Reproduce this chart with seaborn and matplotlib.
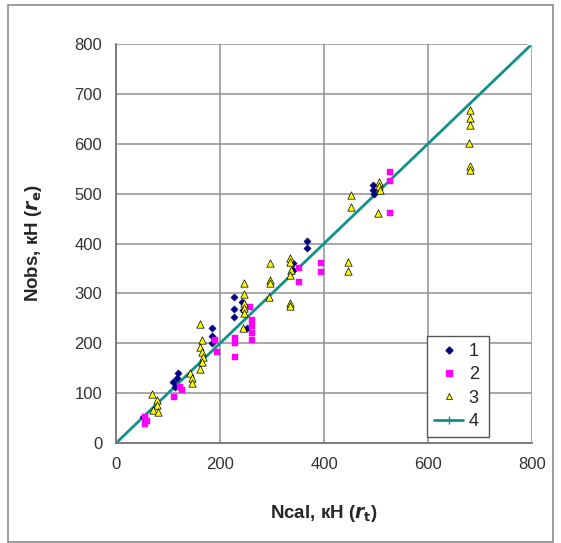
import matplotlib
matplotlib.use("Agg")
import matplotlib.pyplot as plt
import seaborn as sns
import pandas as pd
from matplotlib.patches import Rectangle
from matplotlib.lines import Line2D

# series 1 - navy diamonds
s1_x = [52, 110, 113, 117, 120, 184, 184, 184, 226, 226, 226, 242, 245, 251,
        341, 341, 367, 367, 495, 495, 497]
s1_y = [53, 123, 113, 130, 140, 230, 214, 200, 292, 269, 252, 283, 267, 230,
        360, 347, 405, 391, 517, 507, 500]

# series 2 - magenta squares
s2_x = [56, 56, 60, 112, 123, 126, 190, 194, 229, 229, 229, 258, 261, 261,
        261, 261, 352, 352, 394, 394, 527, 527, 527]
s2_y = [53, 39, 45, 93, 113, 106, 206, 183, 210, 200, 172, 272, 246, 234,
        220, 206, 351, 323, 360, 343, 544, 526, 462]

# series 3 - yellow triangles
s3_x = [69, 78, 79, 72, 81, 142, 146, 146, 162, 165, 162, 165, 167, 165, 162,
        247, 247, 247, 247, 247, 245, 296, 296, 296, 294, 335, 335, 336, 335,
        334, 334, 451, 451, 447, 447, 506, 506, 508, 504, 680, 680, 680, 678,
        680, 680]
s3_y = [98, 86, 76, 66, 63, 140, 130, 120, 238, 206, 193, 183, 173, 163, 148,
        321, 298, 280, 270, 260, 231, 361, 327, 320, 292, 372, 363, 347, 337,
        281, 275, 498, 474, 363, 345, 524, 515, 507, 462, 667, 651, 637, 601,
        555, 548]

# series 4 - line of equality
s4_x = [0, 800]
s4_y = [0, 800]

x_ticks = [0, 200, 400, 600, 800]
y_ticks = [0, 100, 200, 300, 400, 500, 600, 700, 800]

sns.set_style("white")
plt.rcParams["font.family"] = ["Liberation Sans", "DejaVu Sans"]

fig = plt.figure(figsize=(5.61, 5.43), dpi=100)
ax = fig.add_axes([0.2068, 0.184, 0.7415, 0.735])

# outer chart frame
fig.patches.append(Rectangle((8 / 561, 1 - 542 / 543), 545 / 561, 537 / 543,
                             transform=fig.transFigure, fill=False,
                             edgecolor="#8c8c8c", linewidth=1.2))

grid_col = "#8f8f8f"
for v in y_ticks[1:]:
    ax.axhline(v, color=grid_col, lw=1.1, zorder=0)
for v in x_ticks[1:]:
    ax.axvline(v, color=grid_col, lw=1.1, zorder=0)

teal = "#12918a"
sns.lineplot(x=s4_x, y=s4_y, ax=ax, color=teal, lw=2, marker="+",
             markersize=7, markeredgewidth=1, zorder=2)

sns.scatterplot(x=s1_x, y=s1_y, ax=ax, color="#000080", marker="D", s=14,
                edgecolor="#000080", linewidth=0.3, zorder=3)
sns.scatterplot(x=s2_x, y=s2_y, ax=ax, color="#ff00ff", marker="s", s=20,
                edgecolor="#ff00ff", linewidth=0.3, zorder=3)
sns.scatterplot(x=s3_x, y=s3_y, ax=ax, color="#ffff00", marker="^", s=28,
                edgecolor="black", linewidth=0.5, zorder=4)

ax.set_xlim(0, 800)
ax.set_ylim(0, 800)
ax.set_xticks(x_ticks)
ax.set_yticks(y_ticks)
ax.tick_params(axis="both", labelsize=12, direction="out", length=5,
               width=1, color="#666666", labelcolor="#333333", pad=5)
for side in ["top", "right"]:
    ax.spines[side].set_visible(False)
for side in ["left", "bottom"]:
    ax.spines[side].set_color("#666666")
    ax.spines[side].set_linewidth(1.2)

ax.set_xlabel(r"Ncal, кН ($\mathbfit{r}_\mathbf{t}$)", fontsize=13.5,
              fontweight="bold", labelpad=22)
ax.set_ylabel(r"Nobs, кН ($\mathbfit{r}_\mathbf{e}$)", fontsize=13.5,
              fontweight="bold", labelpad=22)

handles = [
    Line2D([], [], ls="none", marker="D", color="#000080", markersize=3.5),
    Line2D([], [], ls="none", marker="s", color="#ff00ff", markersize=4.5),
    Line2D([], [], ls="none", marker="^", markerfacecolor="#ffff00",
           markeredgecolor="black", markeredgewidth=0.5, markersize=5),
    Line2D([], [], color=teal, lw=2, marker="+", markersize=6),
]
leg = ax.legend(handles, ["1", "2", "3", "4"], loc="lower left",
                bbox_to_anchor=(0.748, 0.015, 0.149, 0.248), mode="expand",
                fontsize=13, frameon=True, fancybox=False, edgecolor="#555555",
                handlelength=1.6, handletextpad=0.3, borderpad=0.4,
                labelspacing=0.35, borderaxespad=0)
leg.get_frame().set_linewidth(1)
leg.get_frame().set_alpha(1)

fig.savefig("out.png", dpi=100)
